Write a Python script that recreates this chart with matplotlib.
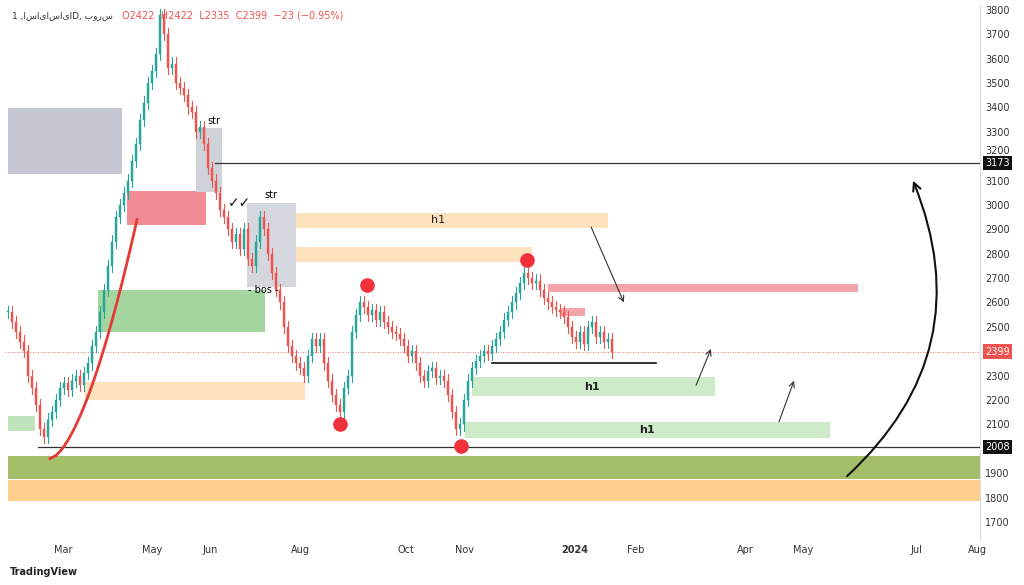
import matplotlib
matplotlib.use("Agg")
import matplotlib.pyplot as plt
from matplotlib.patches import Rectangle, FancyArrowPatch
import numpy as np

# candle positions (chart x units) and closes
closes = [2560,2520,2480,2440,2400,2300,2250,2180,2080,
          2050,2120,2150,2200,2250,
          2270,2240,2280,2300,2260,2310,2350,2420,
          2480,2560,2650,2750,2850,2950,3000,3050,
          3100,3180,3250,3350,3420,3500,3550,3620,
          3780,3700,3560,3580,3500,3480,3450,3400,
          3380,3300,3320,3250,3150,3100,3050,2980,
          2950,2900,2850,2880,2820,2900,2780,2750,
          2850,2950,2900,2800,2720,2650,2600,2500,
          2420,2380,2350,2330,2300,2380,2450,2420,
          2450,2350,2280,2220,2180,2150,2250,2300,
          2480,2550,2600,2580,2550,2570,2530,2560,
          2520,2500,2480,2470,2450,2420,2380,2400,
          2350,2300,2280,2320,2330,2290,2300,2280,
          2220,2150,2080,2100,2200,2280,2330,2360,
          2380,2400,2390,2420,2450,2480,2530,2560,
          2600,2640,2680,2720,2700,2680,2690,2650,
          2620,2600,2580,2570,2560,2540,2500,2460,
          2440,2480,2430,2500,2520,2460,2480,2440,2450,2399]
xs = [8 + 4*i for i in range(len(closes))]
month_labels = ["Mar","May","Jun","Aug","Oct","Nov","2024","Feb","Apr","May","Jul","Aug"]
month_pos = [63,152,210,300,406,464,575,636,745,803,916,977]
yticks = list(range(1700, 3900, 100))

fig = plt.figure(figsize=(10.24,5.85), dpi=100)
ax = fig.add_axes([5/1024, 45/585, 975/1024, 535/585])
ax.set_xlim(5, 980)
ax.set_ylim(1626, 3820)

def box(x0,x1,p0,p1,c,a=1.0,ec='none'):
    ax.add_patch(Rectangle((x0,p0),x1-x0,p1-p0,fc=c,alpha=a,ec=ec,lw=0.8,zorder=1))

box(8,122,3128,3398,'#c5c8d3')
box(127,206,2919,3058,'#f28c94')
box(98,265,2480,2652,'#a5d6a0')
box(85,305,2202,2275,'#fde2bd')
box(8,35,2075,2136,'#bfe3bb')
box(8,985,1878,1972,'#a4bf6a')
box(8,985,1784,1874,'#fccf8c')
box(265,608,2907,2968,'#fde2bd')
box(265,532,2767,2829,'#fde2bd')
box(247,296,2665,3009,'#d5d7df')
box(196,222,3054,3316,'#d0d2da')
box(548,858,2644,2677,'#f5a4a9')
box(560,585,2546,2579,'#f5a4a9')
box(472,715,2218,2296,'#cdeac9')
box(465,830,2046,2111,'#cdeac9')
for t,x,y,w in [("h1",438,2938,'normal'),("h1",592,2255,'bold'),("h1",647,2078,'bold')]:
    ax.text(x,y,t,ha='center',va='center',fontsize=8,fontweight=w,color='#222')

ax.plot([215,985],[3173,3173],color='#333',lw=0.9,zorder=2)
ax.plot([38,985],[2008,2008],color='#333',lw=0.9,zorder=2)
ax.plot([492,656],[2353,2353],color='#111',lw=1.2,zorder=2)
ax.axhline(2399,color='#ef5350',lw=0.6,ls=(0,(1,2)),zorder=2)

o = [closes[0]] + closes[:-1]
for x,op,c in zip(xs,o,closes):
    col = '#26a69a' if c>=op else '#ef5350'
    ax.plot([x,x],[min(op,c)-25,max(op,c)+25],color=col,lw=0.8,zorder=3)
    ax.add_patch(Rectangle((x-1.3,min(op,c)),2.6,max(abs(c-op),4),fc=col,ec=col,lw=0.3,zorder=4))

ax.scatter([367,340,461,527],[2673,2103,2013,2775],s=90,color='#f0313c',zorder=5)
t = np.linspace(0,1,30)
ax.plot(50+87*t**0.8, 1960+(2940-1960)*t**1.3, color='#e53935', lw=2, zorder=5)
for a,b in [((590,2920),(625,2590)),((695,2250),(712,2420)),((778,2100),(795,2290))]:
    ax.add_patch(FancyArrowPatch(a,b,arrowstyle='->',mutation_scale=10,color='#333',lw=0.8,zorder=6))
ax.add_patch(FancyArrowPatch((845,1880),(912,3110),connectionstyle="arc3,rad=0.35",arrowstyle='->',mutation_scale=14,color='#111',lw=1.5,zorder=6))
ax.text(207,3330,"str",fontsize=7); ax.text(264,3030,"str",fontsize=7)
ax.text(248,2640,"- bos -",fontsize=7)
ax.text(228,2990,"✓✓",fontsize=10,color='#111')

ax.yaxis.tick_right()
ax.set_yticks(yticks)
ax.set_yticklabels(["" if v == 2000 else str(v) for v in yticks],fontsize=7,color='#333')
ax.get_yticklabels()[yticks.index(3200)].set_va('bottom')
ax.set_xticks(month_pos)
ax.set_xticklabels(month_labels,fontsize=7,color='#333')
ax.get_xticklabels()[6].set_fontweight('bold')
ax.tick_params(length=0)
for s in ['top','left','bottom']:
    ax.spines[s].set_visible(False)
ax.spines['right'].set_color('#ddd')
for v,c in [(3173,'#111'),(2008,'#111'),(2399,'#ef5350')]:
    ax.text(1.005,v,str(v),transform=ax.get_yaxis_transform(),fontsize=7,color='white',va='center',
            bbox=dict(fc=c,ec='none',pad=1.5),zorder=10)
fig.text(12/1024,1-18/585,"1 ,اسایا\u200cسایا\u200cD, بورس",fontsize=6.5,color='#333',family='DejaVu Sans')
fig.text(122/1024,1-18/585,"O2422  H2422  L2335  C2399  −23 (−0.95%)",fontsize=7,color='#ef5350')
fig.text(10/1024,1-575/585,"TradingView",fontsize=7,fontweight='bold',color='#222')
fig.savefig("out.png",dpi=100)
